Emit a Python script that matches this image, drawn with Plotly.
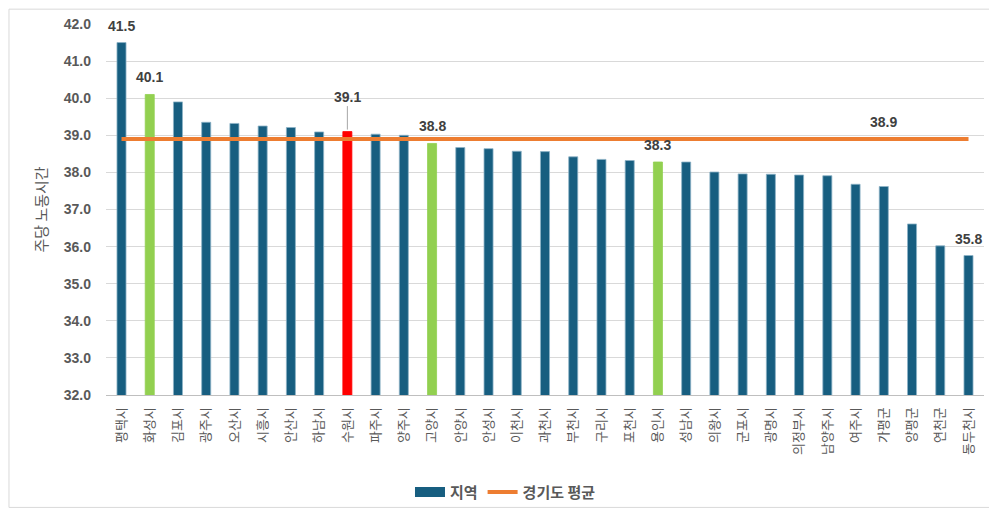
import plotly.graph_objects as go

regions = ["평택시", "화성시", "김포시", "광주시", "오산시", "시흥시", "안산시", "하남시",
           "수원시", "파주시", "양주시", "고양시", "안양시", "안성시", "이천시", "과천시",
           "부천시", "구리시", "포천시", "용인시", "성남시", "의왕시", "군포시", "광명시",
           "의정부시", "남양주시", "여주시", "가평군", "양평군", "연천군", "동두천시"]
hours = [41.5, 40.1, 39.9, 39.35, 39.32, 39.25, 39.21, 39.09,
         39.1, 39.03, 39.0, 38.78, 38.67, 38.64, 38.57, 38.56,
         38.42, 38.35, 38.32, 38.28, 38.28, 38.01, 37.96, 37.95,
         37.93, 37.91, 37.68, 37.62, 36.61, 36.02, 35.76]
gg_avg = 38.9
avg_line = [gg_avg] * len(regions)

green_regions = ["화성시", "고양시", "용인시"]
red_regions = ["수원시"]
label_regions = ["평택시", "화성시", "수원시", "고양시", "용인시", "동두천시"]
avg_label_at = "가평군"

BLUE = "#175E80"
GREEN = "#92D050"
RED = "#FF0000"
ORANGE = "#ED7D31"
GREY = "#595959"
KFONT = "Noto Sans CJK KR"
NFONT = "Liberation Sans"

colors = []
edges = []
for r in regions:
    if r in red_regions:
        colors.append(RED); edges.append(RED)
    elif r in green_regions:
        colors.append(GREEN); edges.append(GREEN)
    else:
        colors.append(BLUE); edges.append("#8DB3C7")

fig = go.Figure()
fig.add_trace(go.Bar(x=regions, y=hours, name="지역", showlegend=False,
                     marker=dict(color=colors, line=dict(color=edges, width=0.8))))
# legend entry with a wide rectangle like the original
fig.add_trace(go.Scatter(x=[None], y=[None], mode="lines", name="지역",
                         line=dict(color=BLUE, width=10)))
fig.add_trace(go.Scatter(x=regions, y=avg_line, mode="lines", name="경기도 평균",
                         line=dict(color=ORANGE, width=4)))

lab_font = dict(family=NFONT, size=14, color="#404040", weight="bold")
for r in label_regions:
    v = hours[regions.index(r)]
    if r in red_regions:
        fig.add_annotation(x=r, y=v, text="{:.1f}".format(v), showarrow=True,
                           arrowhead=0, arrowwidth=1, arrowcolor="#A6A6A6",
                           ax=0, ay=-33, yshift=2, standoff=0, font=lab_font)
    else:
        fig.add_annotation(x=r, y=v, text="{:.1f}".format(v), showarrow=False,
                           yanchor="middle", yshift=17, font=lab_font)
fig.add_annotation(x=avg_label_at, y=gg_avg, text="{:.1f}".format(gg_avg), showarrow=False,
                   yanchor="middle", yshift=17, font=lab_font)

# outer frame
fig.add_shape(type="rect", xref="paper", yref="paper", x0=-0.1105, x1=1.008, y0=-0.303, y1=1.04,
              line=dict(color="#D9D9D9", width=1), layer="below")

# page body has an 8px margin, so the figure is sized 8px smaller
fig.update_layout(
    width=989, height=504,
    margin=dict(l=98, r=13, t=16, b=117, autoexpand=False),
    plot_bgcolor="white", paper_bgcolor="white",
    bargap=0.68,
    showlegend=True,
    legend=dict(orientation="h", x=0.455, xanchor="center", y=-0.262, yanchor="middle",
                bgcolor="rgba(0,0,0,0)",
                font=dict(family=KFONT, size=15, color=GREY, weight="bold")),
)
fig.update_xaxes(tickangle=-90, tickfont=dict(family=KFONT, size=13, color=GREY),
                 showline=True, linecolor="#BFBFBF", linewidth=1, showgrid=False,
                 ticklabelstandoff=6, automargin=False)
fig.update_yaxes(range=[32, 42], dtick=1, tickformat=".1f",
                 tickfont=dict(family=NFONT, size=14, color=GREY, weight="bold"),
                 gridcolor="#D9D9D9", gridwidth=1, zeroline=False, ticklabelstandoff=14,
                 automargin=False,
                 title=dict(text="주당 노동시간", font=dict(family=KFONT, size=15, color=GREY),
                            standoff=12))

fig.write_html("out.html")
